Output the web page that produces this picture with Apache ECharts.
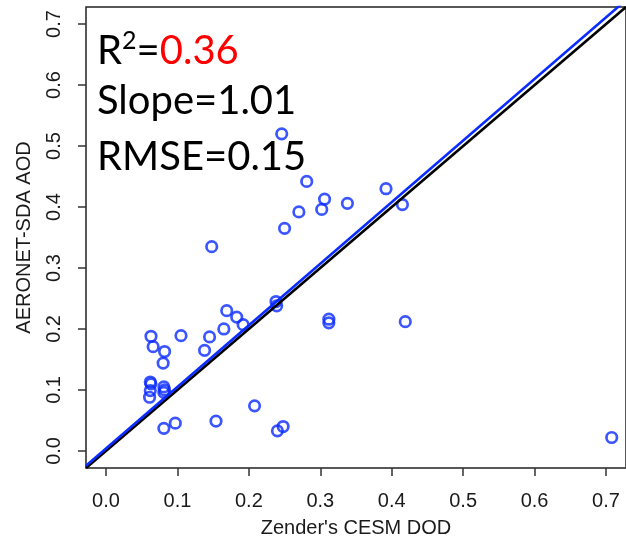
<!DOCTYPE html>
<html>
<head>
<meta charset="utf-8">
<script src="https://cdn.jsdelivr.net/npm/echarts@6/dist/echarts.min.js"></script>
<style>
  html, body { margin: 0; padding: 0; background: #fff; }
  #chart { width: 626px; height: 544px; }
</style>
</head>
<body>
<div id="chart"></div>
<script>
// model dust optical depth (x) vs AERONET fine/coarse AOD (y)
var modelDOD = [0.148, 0.250, 0.270, 0.281, 0.238, 0.239, 0.169, 0.183, 0.192, 0.165,
  0.145, 0.138, 0.105, 0.063, 0.066, 0.082, 0.080, 0.062, 0.063, 0.062,
  0.061, 0.081, 0.082, 0.081, 0.081, 0.097, 0.154, 0.208, 0.240, 0.248,
  0.306, 0.302, 0.338, 0.392, 0.415, 0.312, 0.312, 0.419, 0.708, 0.246]
var aeronetAOD = [0.335, 0.365, 0.392, 0.442, 0.245, 0.238, 0.230, 0.2195, 0.207, 0.200,
  0.187, 0.165, 0.189, 0.188, 0.171, 0.163, 0.144, 0.113, 0.110, 0.099,
  0.088, 0.105, 0.100, 0.096, 0.037, 0.0455, 0.049, 0.074, 0.033, 0.040,
  0.413, 0.396, 0.406, 0.430, 0.404, 0.216, 0.210, 0.212, 0.022, 0.520]
var tickValues = [0, 0.1, 0.2, 0.3, 0.4, 0.5, 0.6, 0.7]
var axisMin = -0.028 // R style 4% padding around 0..0.7
var axisMax = 0.728
var fitSlope = 1.01
var fitIntercept = 0.004
var statLines = ['R2=0.36', 'Slope=1.01', 'RMSE=0.15']

var blue = '#0a2cff'
var points = modelDOD.map(function (x, i) { return [x, aeronetAOD[i]] })
var oneToOne = [[axisMin, axisMin], [axisMax, axisMax]]
var fitLine = [axisMin, axisMax].map(function (x) { return [x, fitIntercept + fitSlope * x] })

var axisCommon = function (name) {
  return {
    type: 'value',
    name: name,
    nameLocation: 'middle',
    min: axisMin,
    max: axisMax,
    axisLine: { show: false, onZero: false },
    splitLine: { show: false },
    axisTick: {
      show: true, inside: false, length: 8, customValues: tickValues,
      lineStyle: { color: '#333', width: 1.5 }
    },
    axisLabel: {
      customValues: tickValues,
      formatter: function (v) { return v.toFixed(1) },
      fontFamily: 'Liberation Sans, Arial, sans-serif',
      fontSize: 20,
      color: '#1a1a1a'
    },
    nameTextStyle: {
      fontFamily: 'Liberation Sans, Arial, sans-serif',
      fontSize: 20,
      color: '#1a1a1a'
    }
  }
}

var xAxis = axisCommon("Zender's CESM DOD")
xAxis.axisLabel.margin = 23
xAxis.nameGap = 50
var yAxis = axisCommon('AERONET-SDA AOD')
yAxis.axisLabel.margin = 22
yAxis.axisLabel.rotate = 90
yAxis.nameGap = 52

var statFont = 'Lato, Calibri, sans-serif'
var chart = echarts.init(document.getElementById('chart'))
chart.setOption({
  animation: false,
  grid: {
    left: 86, top: 7, right: -8, bottom: 76,
    show: true, borderColor: '#222', borderWidth: 1.5
  },
  xAxis: xAxis,
  yAxis: yAxis,
  series: [
    {
      type: 'scatter',
      data: points,
      symbol: 'circle',
      symbolSize: 10.5,
      itemStyle: { color: 'rgba(0,0,0,0)', borderColor: blue, borderWidth: 2.7 }
    },
    {
      type: 'line',
      data: oneToOne,
      symbol: 'none',
      lineStyle: { color: '#000', width: 2.6 }
    },
    {
      type: 'line',
      data: fitLine,
      symbol: 'none',
      lineStyle: { color: blue, width: 2.6 }
    }
  ],
  graphic: [
    {
      type: 'text', left: 97, top: 28,
      style: {
        text: '{a|R}{s|2}{a|=}{r|0.36}',
        rich: {
          a: { fontFamily: statFont, fontSize: 40, fill: '#000', lineHeight: 46 },
          s: { fontFamily: statFont, fontSize: 25, fill: '#000', lineHeight: 46, verticalAlign: 'top' },
          r: { fontFamily: statFont, fontSize: 40, fill: '#ff0000', lineHeight: 46 }
        }
      }
    },
    {
      type: 'text', left: 97, top: 81,
      style: { text: statLines[1], font: '40px ' + statFont, fill: '#000' }
    },
    {
      type: 'text', left: 97, top: 137,
      style: { text: statLines[2], font: '40px ' + statFont, fill: '#000' }
    }
  ]
})
</script>
</body>
</html>
